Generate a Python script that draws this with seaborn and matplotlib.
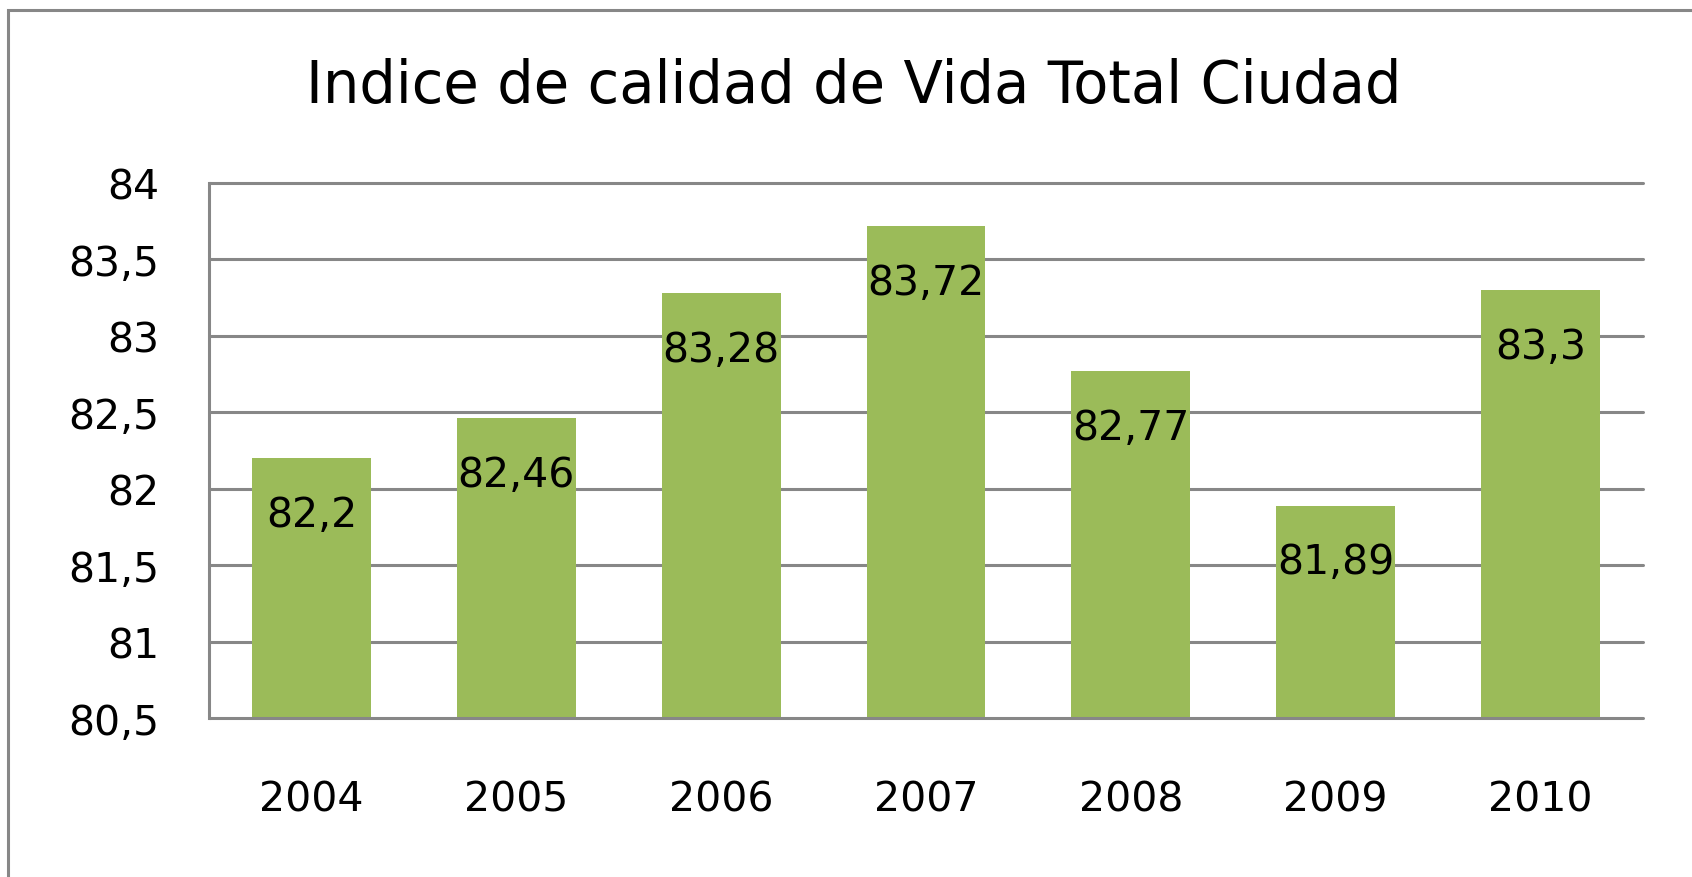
import matplotlib
matplotlib.use("Agg")
import matplotlib.pyplot as plt
import seaborn as sns
import pandas as pd
from matplotlib.patches import Rectangle

years = ["2004", "2005", "2006", "2007", "2008", "2009", "2010"]
values = [82.2, 82.46, 83.28, 83.72, 82.77, 81.89, 83.3]
yticks = [80.5, 81, 81.5, 82, 82.5, 83, 83.5, 84]
title = "Indice de calidad de Vida Total Ciudad"

sns.set_style("white")
plt.rcParams['font.family'] = ['DejaVu Sans']

W, H = 1692, 878
fig = plt.figure(figsize=(W / 100, H / 100), dpi=100)
ax = fig.add_axes([209 / W, (H - 719) / H, (1643 - 209) / W, (719 - 184) / H])

df = pd.DataFrame({"year": years, "value": values})
sns.barplot(data=df, x="year", y="value", color="#9BBB59", saturation=1,
            width=0.58, ax=ax, zorder=3, linewidth=0, edgecolor="none")

grid_c = "#878787"
ax.set_ylim(80.5, 84)
ax.set_yticks(yticks)
ax.set_yticklabels([f"{t:g}".replace(".", ",") for t in yticks])
for t in yticks:
    ax.axhline(t, color=grid_c, lw=2.2, zorder=4 if t == yticks[0] else 1,
               clip_on=False)
ax.set_xlim(-0.5, len(years) - 0.5)

for s in ["top", "right", "bottom"]:
    ax.spines[s].set_visible(False)
ax.spines["left"].set_color(grid_c)
ax.spines["left"].set_linewidth(2.2)
ax.tick_params(axis="both", length=0, labelsize=29.5, colors="black")
ax.tick_params(axis="y", pad=36)
ax.tick_params(axis="x", pad=44)
ax.set_xlabel("")
ax.set_ylabel("")

for i, v in enumerate(values):
    ax.annotate(f"{v:g}".replace(".", ","), xy=(i, v), xytext=(0, -41),
                textcoords="offset points", ha="center", va="center",
                fontsize=29.5, color="black", zorder=5)

fig.text(0.5 * (285 + 1297) / 1568, (H - 87) / H, title, ha="center",
         va="center", fontsize=41.5, color="black")

fig.patches.append(Rectangle((8 / W, -0.1), 1.2, (H - 11) / H + 0.1,
                             transform=fig.transFigure, fill=False,
                             edgecolor=grid_c, lw=2.2))

fig.savefig("out.png", dpi=100)
